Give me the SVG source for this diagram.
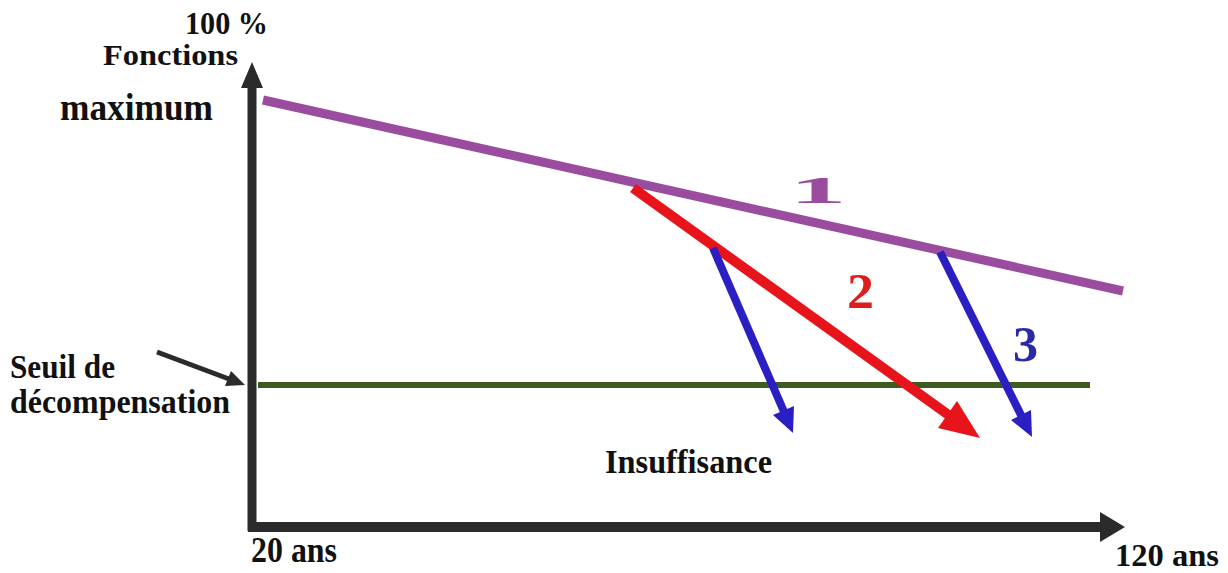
<svg xmlns="http://www.w3.org/2000/svg" width="1228" height="573" viewBox="0 0 1228 573">
<style>
.t{font-family:"Liberation Serif","Times New Roman",serif;font-weight:bold;fill:#111}
.ax{stroke:#2b2b2b;fill:none}
.axh{fill:#2b2b2b}
</style>
<defs>
<clipPath id="c1"><rect x="780" y="177" width="80" height="30"/></clipPath>
</defs>
<rect width="1228" height="573" fill="#fff"/>
<g id="axes">
<line class="ax" x1="252" y1="531" x2="252" y2="84" stroke-width="9"/>
<polygon class="axh" points="252,62 241,88 263,88"/>
<line class="ax" x1="248" y1="527" x2="1102" y2="527" stroke-width="10"/>
<polygon class="axh" points="1125,527 1100,512 1100,542"/>
</g>
<g id="connectors">
<line id="curve1" x1="263" y1="100" x2="1123" y2="291" stroke="#9a4d9f" stroke-width="9"/>
<line id="seuil" x1="258" y1="385" x2="1090" y2="385" stroke="#3c5b1f" stroke-width="6"/>
<g id="arrow2">
<line x1="633" y1="188" x2="950" y2="416" stroke="#e8141b" stroke-width="10"/>
<polygon points="980,438 938,428 957,401" fill="#e8141b"/>
</g>
<g id="arrowb1">
<line x1="713" y1="248" x2="785" y2="414" stroke="#2b1fc4" stroke-width="8"/>
<polygon points="793,433 773,415 794,406" fill="#2b1fc4"/>
</g>
<g id="arrow3">
<line x1="940" y1="252" x2="1023" y2="419" stroke="#2b1fc4" stroke-width="8"/>
<polygon points="1032,437 1011,420 1031,410" fill="#2b1fc4"/>
</g>
<g id="arrowseuil">
<line x1="157" y1="352" x2="229" y2="379" stroke="#2b2b2b" stroke-width="5"/>
<polygon points="245,385 225,386 231,371" fill="#2b2b2b"/>
</g>
</g>
<g id="labels">
<text class="t" x="185" y="34" font-size="32" textLength="83" lengthAdjust="spacingAndGlyphs">100 %</text>
<text class="t" x="103" y="65" font-size="30" textLength="135" lengthAdjust="spacingAndGlyphs">Fonctions</text>
<text class="t" x="60" y="120" font-size="38" textLength="153" lengthAdjust="spacingAndGlyphs">maximum</text>
<text class="t" x="10" y="378" font-size="34" textLength="105" lengthAdjust="spacingAndGlyphs">Seuil de</text>
<text class="t" x="10" y="413" font-size="34" textLength="220" lengthAdjust="spacingAndGlyphs">décompensation</text>
<text class="t" x="605" y="473" font-size="33" textLength="167" lengthAdjust="spacingAndGlyphs">Insuffisance</text>
<text class="t" x="251" y="562" font-size="35" textLength="86" lengthAdjust="spacingAndGlyphs">20 ans</text>
<text class="t" x="1115" y="566" font-size="31" textLength="104" lengthAdjust="spacingAndGlyphs">120 ans</text>
<text class="t" x="847" y="308" font-size="50" textLength="27" lengthAdjust="spacingAndGlyphs" style="fill:#dd1d1d">2</text>
<text class="t" x="1013" y="361" font-size="50" textLength="25" lengthAdjust="spacingAndGlyphs" style="fill:#2a2aa8">3</text>
<g clip-path="url(#c1)"><text class="t" transform="translate(818,203) scale(3,1)" text-anchor="middle" font-size="38" style="fill:#9a4d9f">1</text></g>
</g>
</svg>
